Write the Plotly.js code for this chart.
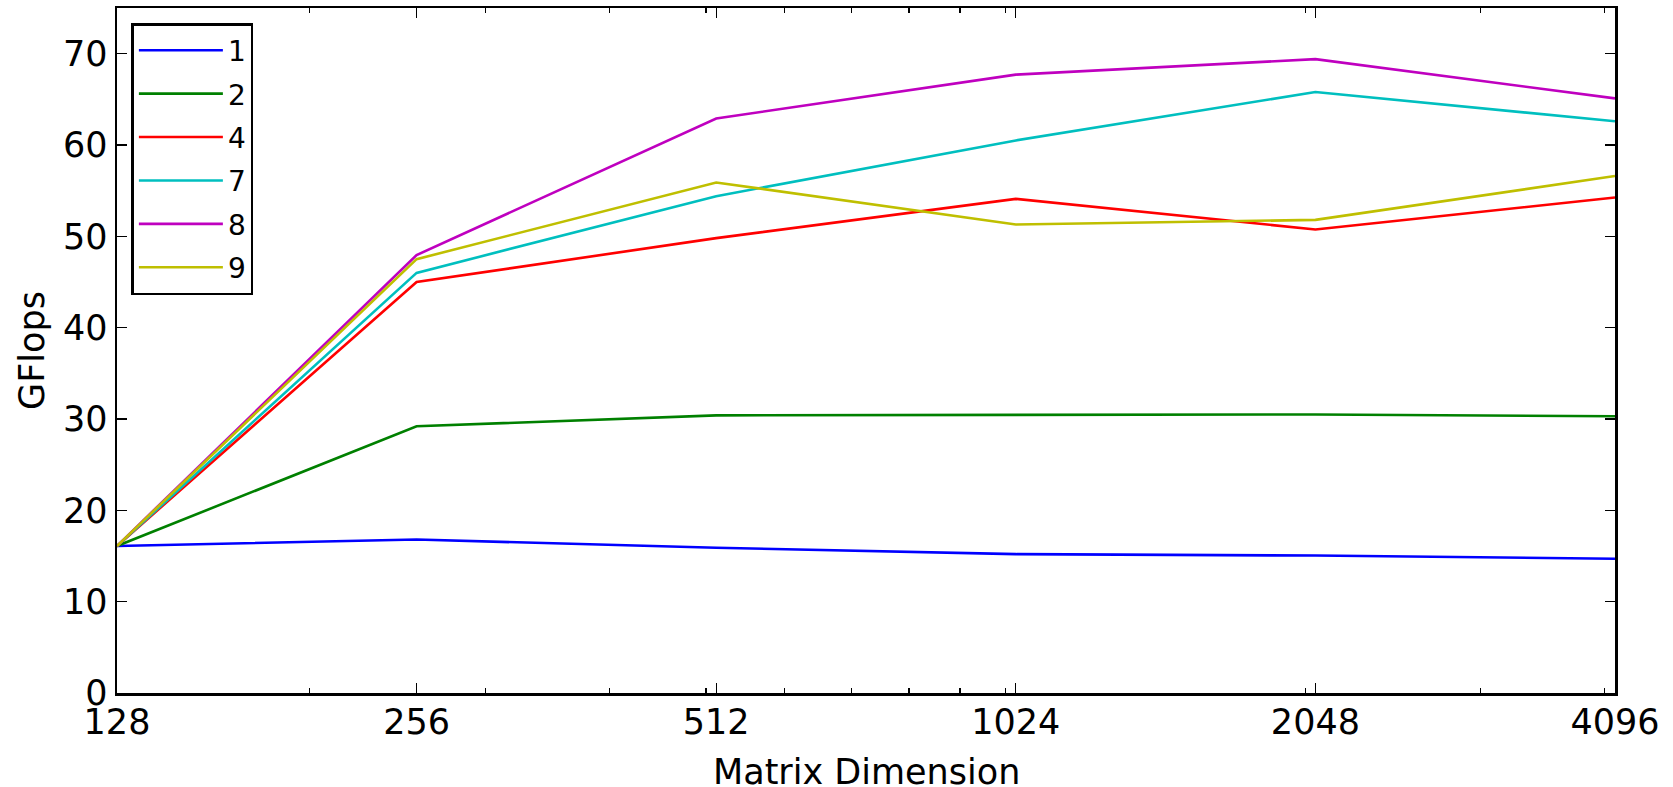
<!DOCTYPE html>
<html>
<head>
<meta charset="utf-8">
<script src="https://cdn.plot.ly/plotly-3.0.1.min.js"></script>
<style>html,body{margin:0;padding:0;background:#fff;}#chart{width:1673px;height:787px;}</style>
</head>
<body>
<div id="chart"></div>
<script>
const matrixDims = [128, 256, 512, 1024, 2048, 4096];
const tickLabels = ['128', '256', '512', '1024', '2048', '4096'];
const minorTicks = [200, 300, 400, 500, 600, 700, 800, 900, 1000, 2000, 3000, 4000];
const seriesNames = ['1', '2', '4', '7', '8', '9'];
const gflops1 = [16.1, 16.8, 15.9, 15.2, 15.05, 14.7];
const gflops2 = [16.1, 29.2, 30.4, 30.45, 30.5, 30.3];
const gflops4 = [16.1, 45.0, 49.8, 54.1, 50.75, 54.25];
const gflops7 = [16.1, 46.0, 54.4, 60.5, 65.8, 62.6];
const gflops8 = [16.1, 47.95, 62.9, 67.7, 69.4, 65.1];
const gflops9 = [16.1, 47.5, 55.9, 51.3, 51.8, 56.6];
const seriesValues = [gflops1, gflops2, gflops4, gflops7, gflops8, gflops9];
const seriesColors = ['#0000ff', '#008000', '#ff0000', '#00bfbf', '#bf00bf', '#bfbf00'];
const xTitle = 'Matrix Dimension';
const yTitle = 'GFlops';

const FONT = 'DejaVu Sans, sans-serif';

const traces = seriesNames.map((name, i) => ({
  type: 'scatter',
  mode: 'lines',
  name: name,
  legendgroup: 'g' + i,
  x: matrixDims,
  y: seriesValues[i],
  line: {color: seriesColors[i], width: 2.6}
}));

const layout = {
  width: 1673,
  height: 787,
  margin: {l: 117, r: 58, t: 8, b: 94, pad: 0},
  paper_bgcolor: '#ffffff',
  plot_bgcolor: '#ffffff',
  font: {family: FONT, color: '#000000', size: 35},
  showlegend: true,
  legend: {
    x: 0.0096, y: 0.978, xanchor: 'left', yanchor: 'top',
    bgcolor: '#ffffff', bordercolor: '#000000', borderwidth: 2.5,
    font: {family: FONT, size: 28, color: '#000000'},
    tracegroupgap: 4,
    itemwidth: 84
  },
  annotations: [{
    text: xTitle, xref: 'paper', yref: 'paper', x: 0.5, y: 0,
    xanchor: 'center', yanchor: 'middle', yshift: -79, showarrow: false,
    font: {family: FONT, size: 35, color: '#000000'}
  }],
  xaxis: {
    type: 'log',
    range: [Math.log10(128), Math.log10(4096)],
    tickmode: 'array',
    tickvals: matrixDims,
    ticktext: tickLabels,
    ticks: 'inside', ticklen: 10, tickwidth: 1.2, tickcolor: '#000000',
    minor: {tickmode: 'array', tickvals: minorTicks, ticks: 'inside', ticklen: 5, tickwidth: 1.2, tickcolor: '#000000', showgrid: false},
    showline: true, linecolor: '#000000', linewidth: 2.5, mirror: 'ticks',
    showgrid: false, zeroline: false,
    ticklabelstandoff: -4,
    tickfont: {family: FONT, size: 35, color: '#000000'},
    automargin: false
  },
  yaxis: {
    range: [0, 75],
    tickmode: 'array',
    tickvals: [0, 10, 20, 30, 40, 50, 60, 70],
    ticktext: ['0', '10', '20', '30', '40', '50', '60', '70'],
    ticks: 'inside', ticklen: 10, tickwidth: 1.2, tickcolor: '#000000',
    showline: true, linecolor: '#000000', linewidth: 2.5, mirror: 'ticks',
    showgrid: false, zeroline: false,
    tickfont: {family: FONT, size: 35, color: '#000000'},
    title: {text: yTitle, font: {family: FONT, size: 35, color: '#000000'}, standoff: 8},
    automargin: false
  }
};

Plotly.newPlot('chart', traces, layout, {displayModeBar: false, staticPlot: true});
</script>
</body>
</html>
